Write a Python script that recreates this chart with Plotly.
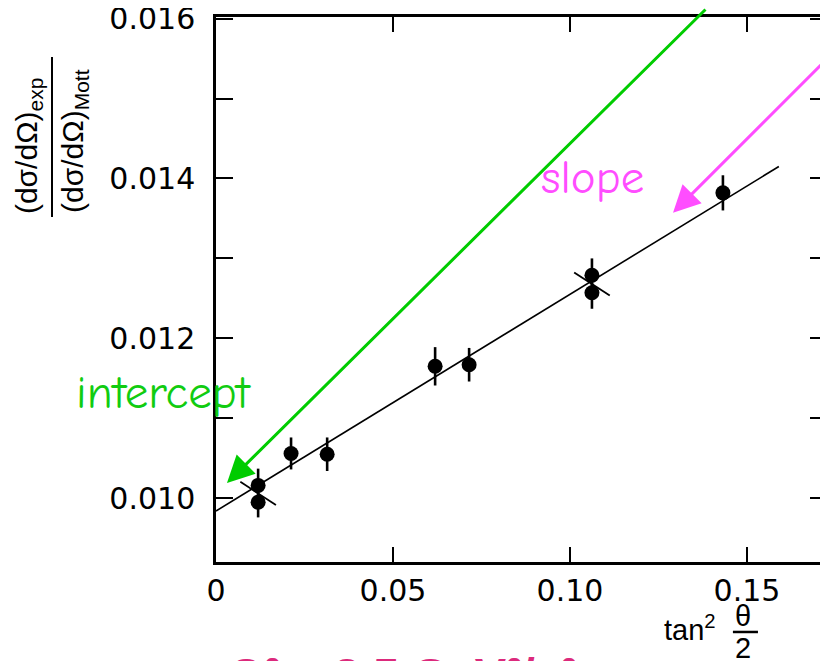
import plotly.graph_objects as go

# ---- data ----
x_vals = [0.0119, 0.0119, 0.0212, 0.0314, 0.0619, 0.0715, 0.1062, 0.1062, 0.1432]
y_vals = [0.01016, 0.00995, 0.01056, 0.01055, 0.01165, 0.01167, 0.01279, 0.01257, 0.01382]
y_err = [0.00021, 0.00019, 0.00020, 0.00021, 0.00024, 0.00021, 0.00021, 0.00020, 0.00022]

fit_x = [0.0, 0.159]
fit_y = [0.00984, 0.01415]

break_x = [0.0119, 0.1062]
break_y = [0.01006, 0.01268]

x_tickvals = [0, 0.05, 0.10, 0.15]
x_ticktext = ["0", "0.05", "0.10", "0.15"]
y_tickvals = [0.010, 0.011, 0.012, 0.013, 0.014, 0.015, 0.016]
y_ticktext = ["0.010", "", "0.012", "", "0.014", "", "0.016"]

intercept_tip = (0.0031, 0.01019)
slope_tip = (0.1291, 0.01357)

GREEN = "#11cc11"
MAGENTA = "#ff4dff"
PINK = "#dc2a7c"

fig = go.Figure()

# fit line
fig.add_trace(go.Scatter(x=fit_x, y=fit_y, mode="lines",
                         line=dict(color="black", width=1.6),
                         hoverinfo="skip", showlegend=False))

# break marks on overlapping pairs
fig.add_trace(go.Scatter(x=break_x, y=break_y, mode="markers",
                         marker=dict(symbol="line-nw", size=30, angle=-12,
                                     line=dict(color="black", width=1.8)),
                         hoverinfo="skip", showlegend=False))

# data points
fig.add_trace(go.Scatter(x=x_vals, y=y_vals, mode="markers",
                         marker=dict(color="black", size=15),
                         error_y=dict(type="data", array=y_err, visible=True,
                                      color="black", thickness=2.6, width=0),
                         showlegend=False))

font_tick = dict(family="DejaVu Sans", size=30, color="black")

fig.update_xaxes(range=[0, 0.1726], showline=True, linecolor="black", linewidth=2.5,
                 mirror="ticks", ticks="inside", ticklen=15, tickwidth=2,
                 tickcolor="black", tickmode="array", tickvals=x_tickvals,
                 ticktext=x_ticktext, tickfont=font_tick, showgrid=False,
                 zeroline=False, ticklabelstandoff=0, automargin=False,
                 ticklabeloverflow="allow")
fig.update_yaxes(range=[0.009202, 0.01602], showline=True, linecolor="black", linewidth=2.5,
                 mirror="ticks", ticks="inside", ticklen=17, tickwidth=2,
                 tickcolor="black", tickmode="array", tickvals=y_tickvals,
                 ticktext=y_ticktext, tickfont=font_tick, showgrid=False,
                 zeroline=False, ticklabelstandoff=12, automargin=False,
                 ticklabeloverflow="allow")

ann = []
# y-axis title as a fraction
ann.append(dict(xref="paper", yref="paper", x=-0.3077, y=0.765,
                text="(dσ/dΩ)<sub>exp</sub>", textangle=-90, showarrow=False,
                xanchor="center", yanchor="middle",
                font=dict(family="Liberation Sans", size=30, color="black")))
ann.append(dict(xref="paper", yref="paper", x=-0.2308, y=0.7725,
                text="(dσ/dΩ)<sub>Mott</sub>", textangle=-90, showarrow=False,
                xanchor="center", yanchor="middle",
                font=dict(family="Liberation Sans", size=30, color="black")))
# x-axis title tan^2 (theta/2)
ann.append(dict(xref="paper", yref="paper", x=0.73, y=-0.122,
                text="tan<sup>2</sup>", showarrow=False, xanchor="left", yanchor="middle",
                font=dict(family="Liberation Sans", size=29, color="black")))
ann.append(dict(xref="paper", yref="paper", x=0.8633, y=-0.0991,
                text="θ", showarrow=False, xanchor="center", yanchor="middle",
                font=dict(family="Liberation Sans", size=29, color="black")))
ann.append(dict(xref="paper", yref="paper", x=0.8633, y=-0.1578,
                text="2", showarrow=False, xanchor="center", yanchor="middle",
                font=dict(family="Liberation Sans", size=29, color="black")))
# labels
ann.append(dict(xref="paper", yref="paper", x=-0.0867, y=0.31,
                text="intercept", showarrow=False, xanchor="center", yanchor="middle",
                font=dict(family="Comic Sans MS, Comic Neue, Noto Sans", size=47, color=GREEN)))
ann.append(dict(xref="paper", yref="paper", x=0.617, y=0.705,
                text="slope", showarrow=False, xanchor="center", yanchor="middle",
                font=dict(family="Comic Sans MS, Comic Neue, Noto Sans", size=47, color=MAGENTA)))
# arrows
ann.append(dict(xref="x", yref="y", x=intercept_tip[0], y=intercept_tip[1],
                ax=480, ay=-555, text="", showarrow=True, arrowhead=2,
                arrowsize=1.8, arrowwidth=3, arrowcolor="#00cc00"))
ann.append(dict(xref="x", yref="y", x=slope_tip[0], y=slope_tip[1],
                ax=200, ay=-155, text="", showarrow=True, arrowhead=2,
                arrowsize=1.8, arrowwidth=3, arrowcolor=MAGENTA))
# cut-off caption at bottom
ann.append(dict(xref="paper", yref="paper", x=0.305, y=-0.2065,
                text="<b>Q² = 2.5 GeV²/c²</b>",
                showarrow=False, xanchor="center", yanchor="middle",
                font=dict(family="Liberation Sans", size=47, color=PINK)))

shapes = [
    dict(type="line", xref="paper", yref="paper", x0=-0.2684, x1=-0.2684,
         y0=0.633, y1=0.9266, line=dict(color="black", width=2)),
    dict(type="line", xref="paper", yref="paper", x0=0.846, x1=0.887,
         y0=-0.1284, y1=-0.1284, line=dict(color="black", width=2.5)),
]

# the page body has an 8px default margin; size the figure so it fits the window
fig.update_layout(width=820, height=653, margin=dict(l=208, r=1, t=9, b=99),
                  plot_bgcolor="white", paper_bgcolor="white",
                  annotations=ann, shapes=shapes, showlegend=False)

fig.write_html("out.html")
